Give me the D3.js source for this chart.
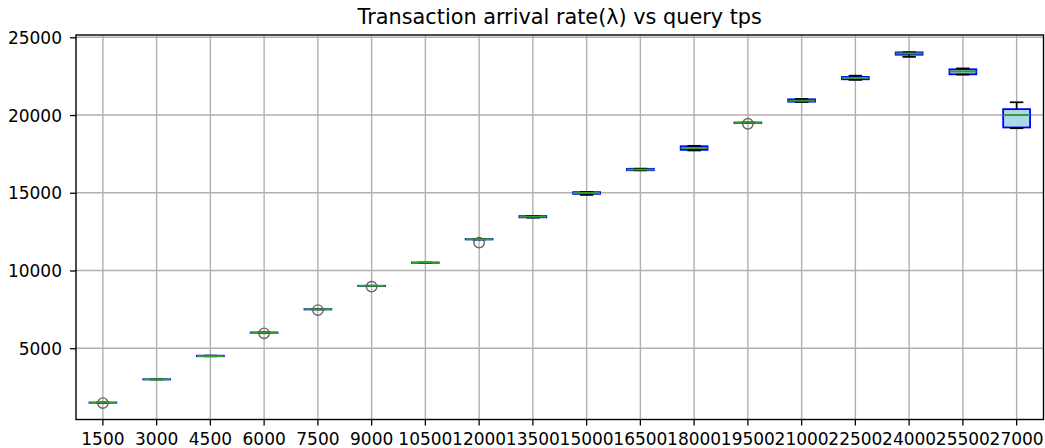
<!DOCTYPE html>
<html>
<head>
<meta charset="utf-8">
<script src="https://cdn.jsdelivr.net/npm/d3@7"></script>
<style>
html,body{margin:0;padding:0;background:#fff;}
svg{display:block;font-family:"DejaVu Sans",sans-serif;}
</style>
</head>
<body>
<svg id="chart" width="1045" height="448"></svg>
<script>
const categories = ["1500","3000","4500","6000","7500","9000","10500","12000","13500","15000","16500","18000","19500","21000","22500","24000","25500","27000"];
const whiskerLow  = [1495, 2990, 4480, 5995, 7495, 9000, 10490, 11990, 13400, 14860, 16440, 17720, 19490, 20840, 22260, 23740, 22600, 19150];
const q1Values    = [1498, 2995, 4485, 6000, 7500, 9005, 10495, 12000, 13420, 14930, 16450, 17760, 19495, 20860, 22300, 23880, 22620, 19200];
const medians     = [1500, 3000, 4495, 6005, 7505, 9010, 10505, 12010, 13460, 14990, 16490, 17870, 19505, 20920, 22390, 23960, 22800, 20000];
const q3Values    = [1502, 3004, 4520, 6010, 7510, 9015, 10510, 12020, 13500, 15040, 16540, 17990, 19515, 21010, 22450, 24030, 22940, 20380];
const whiskerHigh = [1505, 3008, 4525, 6015, 7515, 9020, 10512, 12030, 13510, 15050, 16550, 18020, 19520, 21030, 22530, 24040, 23000, 20820];
const fliers      = [[1470], [], [], [5960], [7455], [8960], [], [11790], [], [], [], [], [19440], [], [], [], [], []];
const yTicks = [5000, 10000, 15000, 20000, 25000];
const titleText = "Transaction arrival rate(λ) vs query tps";

(function () {
const svg = d3.select("#chart");
const pLeft = 76, pRight = 1043.5, pTop = 35, pBottom = 419.5;

const x = d3.scaleBand().domain(categories).range([pLeft, pRight]).padding(0);
const y = d3.scaleLinear().domain([415, 25148]).range([pBottom, pTop]);
const bw = x.bandwidth();
const boxW = bw * 0.5, capW = boxW * 0.5;
const cx = c => x(c) + bw / 2;

// grid
const grid = svg.append("g");
grid.selectAll("line.v").data(categories).enter().append("line")
  .attr("x1", d => cx(d)).attr("x2", d => cx(d)).attr("y1", pTop).attr("y2", pBottom)
  .attr("stroke", "#b0b0b0").attr("stroke-width", 1.4);
grid.selectAll("line.h").data(yTicks).enter().append("line")
  .attr("x1", pLeft).attr("x2", pRight).attr("y1", d => y(d)).attr("y2", d => y(d))
  .attr("stroke", "#b0b0b0").attr("stroke-width", 1.4);

const rows = categories.map((c, i) => ({c, lo: whiskerLow[i], q1: q1Values[i], med: medians[i], q3: q3Values[i], hi: whiskerHigh[i], fl: fliers[i]}));

const g = svg.append("g");
const items = g.selectAll("g.item").data(rows).enter().append("g");

// boxes
items.append("rect")
  .attr("x", d => cx(d.c) - boxW / 2)
  .attr("width", boxW)
  .attr("y", d => y(d.q3))
  .attr("height", d => Math.max(0, y(d.q1) - y(d.q3)))
  .attr("fill", "#add8e6").attr("stroke", "#0000ff").attr("stroke-width", 1.8);
// whiskers
items.append("line")
  .attr("x1", d => cx(d.c)).attr("x2", d => cx(d.c))
  .attr("y1", d => y(d.q3)).attr("y2", d => y(d.hi))
  .attr("stroke", "#000").attr("stroke-width", 1.7);
items.append("line")
  .attr("x1", d => cx(d.c)).attr("x2", d => cx(d.c))
  .attr("y1", d => y(d.q1)).attr("y2", d => y(d.lo))
  .attr("stroke", "#000").attr("stroke-width", 1.7);
// caps
items.append("line")
  .attr("x1", d => cx(d.c) - capW / 2).attr("x2", d => cx(d.c) + capW / 2)
  .attr("y1", d => y(d.hi)).attr("y2", d => y(d.hi))
  .attr("stroke", "#000").attr("stroke-width", 1.7);
items.append("line")
  .attr("x1", d => cx(d.c) - capW / 2).attr("x2", d => cx(d.c) + capW / 2)
  .attr("y1", d => y(d.lo)).attr("y2", d => y(d.lo))
  .attr("stroke", "#000").attr("stroke-width", 1.7);
// medians
items.append("line")
  .attr("x1", d => cx(d.c) - boxW / 2).attr("x2", d => cx(d.c) + boxW / 2)
  .attr("y1", d => y(d.med)).attr("y2", d => y(d.med))
  .attr("stroke", "#2ca02c").attr("stroke-width", 1.9);
// fliers
items.selectAll("circle").data(d => d.fl.map(v => ({c: d.c, v}))).enter().append("circle")
  .attr("cx", d => cx(d.c)).attr("cy", d => y(d.v)).attr("r", 5.2)
  .attr("fill", "none").attr("stroke", "#666").attr("stroke-width", 1.4);

// axes
const xAxis = d3.axisBottom(x).tickSize(6).tickSizeOuter(0).tickPadding(7);
const yAxis = d3.axisLeft(y).tickValues(yTicks).tickFormat(d3.format("d")).tickSize(6).tickSizeOuter(0).tickPadding(8);

const gx = svg.append("g").attr("transform", `translate(0,${pBottom})`).call(xAxis);
const gy = svg.append("g").attr("transform", `translate(${pLeft},0)`).call(yAxis);
[gx, gy].forEach(a => {
  a.select(".domain").remove();
  a.selectAll(".tick line").attr("stroke", "#000").attr("stroke-width", 1.3);
  a.selectAll(".tick text").attr("fill", "#000").style("font-size", "17px").style("font-family", "'DejaVu Sans', sans-serif");
});
gy.selectAll(".tick text").attr("dy", "0.36em");

// frame
svg.append("rect").attr("x", pLeft).attr("y", pTop).attr("width", pRight - pLeft).attr("height", pBottom - pTop)
  .attr("fill", "none").attr("stroke", "#000").attr("stroke-width", 1.4);

// title
svg.append("text").attr("x", (pLeft + pRight) / 2).attr("y", 24)
  .attr("text-anchor", "middle").style("font-size", "20.8px").attr("fill", "#000")
  .text(titleText);
})();
</script>
</body>
</html>
